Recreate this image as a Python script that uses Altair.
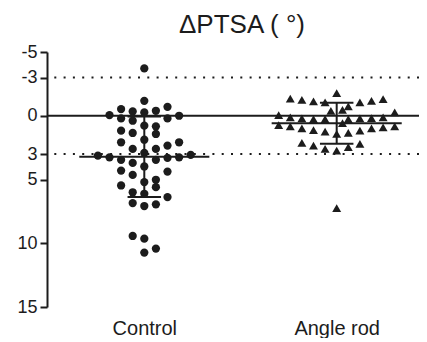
import altair as alt
import pandas as pd

groups = ["Control", "Angle rod"]

control_values = [-3.71, -1.17, -0.52, -0.70, -0.34, -0.39, -0.26, -0.05, 0.0,
                  0.21, 0.39, 0.21, 0.78, 1.17, 0.83, 1.35, 1.43, 1.88, 2.08,
                  2.08, 2.34, 2.60, 2.60, 2.92, 3.13, 3.26, 3.46, 3.70, 3.46,
                  3.30, 3.26, 3.07, 3.98, 4.30, 4.38, 4.64, 5.02, 5.20, 5.47,
                  5.60, 6.00, 6.12, 6.38, 6.85, 7.08, 6.95, 9.43, 9.64, 10.42,
                  10.73]
control_slots = [0, 0, -2, 2, -1, 1, 0, -3, 3,
                 -2, -1, 2, 0, -2, 1, -1, 1, 0, -2,
                 3, 2, -1, 1, 0, -4, -3, -2, -1, 1,
                 2, 3, 4, 0, -2, 2, -1, 1, 0, -2,
                 1, -1, 0, 2, -1, 0, 1, -1, 0, 1,
                 0]

angle_values = [-1.77, -1.35, -1.25, -1.12, -1.04, -1.04, -1.17, -1.30, -0.73,
                -0.39, -0.47, -0.05, -0.26, 0.13, 0.21, 0.26, 0.26, 0.26, 0.21,
                0.18, 0.13, 0.73, 0.83, 0.99, 1.12, 1.25, 1.43, 1.35, 1.17,
                0.99, 0.91, 0.83, 0.57, 2.13, 2.34, 2.60, 2.73, 2.47, 2.21,
                7.24]
angle_slots = [0, -4, -3, -2, -1, 2, 3, 4, 1,
               -0.5, 0.5, -5, 5, -4, -3, -2, -1, 1, 2,
               3, 4, -5, -4, -3, -2, -1, 0, 1, 2,
               3, 4, 5, 0.5, -3, -2, -1, 0, 1, 2,
               0]

y_ticks = [-5, -3, 0, 3, 5, 10, 15]
ref_dotted = [-3, 3]
ref_solid = [0]

SLOT = 0.0603
MEAN_HALF = 0.338
CAP_HALF = 0.087
FONT = "Liberation Sans"
INK = "#1c1c1c"

rows = []
for gi, (g, vals, slots) in enumerate(
        [(groups[0], control_values, control_slots),
         (groups[1], angle_values, angle_slots)]):
    for v, s in zip(vals, slots):
        rows.append({"group": g, "gi": gi + 1, "value": v, "slot": s})
df = pd.DataFrame(rows)

xscale = alt.Scale(domain=[0.4943, 2.4278], nice=False, zero=False)
yscale = alt.Scale(domain=[-5, 15], reverse=True, nice=False, zero=False)

xaxis = alt.Axis(values=[1, 2], labelExpr="datum.value == 1 ? 'Control' : 'Angle rod'",
                 domain=False, ticks=False, grid=False, title=None,
                 labelFont=FONT, labelFontSize=20, labelColor=INK, labelPadding=11)
yaxis = alt.Axis(values=y_ticks,
                 labelExpr="(datum.value < 0 ? '-' : '') + abs(datum.value)",
                 grid=False, title=None, domainColor=INK, domainWidth=2,
                 tickColor=INK, tickWidth=2, tickSize=7, labelFont=FONT,
                 labelFontSize=18, labelColor=INK, labelPadding=3)


def X(field):
    return alt.X(field, type="quantitative", scale=xscale, axis=xaxis)


def Y(field):
    return alt.Y(field, type="quantitative", scale=yscale, axis=yaxis)


base = alt.Chart(df).transform_calculate(xp=f"datum.gi + datum.slot * {SLOT}")

circles = base.transform_filter("datum.gi == 1").mark_point(
    filled=True, shape="circle", size=68, color=INK, opacity=1
).encode(x=X("xp"), y=Y("value"))

triangles = base.transform_filter("datum.gi == 2").mark_point(
    filled=True, shape="triangle-up", size=80, color=INK, opacity=1
).encode(x=X("xp"), y=Y("value"))

solid = alt.Chart(pd.DataFrame({"y": ref_solid})).mark_rule(
    color=INK, strokeWidth=2).encode(y=Y("y"))
dotted = alt.Chart(pd.DataFrame({"y": ref_dotted})).mark_rule(
    color=INK, strokeWidth=2, strokeDash=[2, 7.3]).encode(y=Y("y"))

stats = alt.Chart(df).transform_aggregate(
    mean="mean(value)", sd="stdev(value)", groupby=["group", "gi"]
).transform_calculate(
    lo="datum.mean - datum.sd", hi="datum.mean + datum.sd",
    xl=f"datum.gi - {MEAN_HALF}", xr=f"datum.gi + {MEAN_HALF}",
    cl=f"datum.gi - {CAP_HALF}", cr=f"datum.gi + {CAP_HALF}")

vline = stats.mark_rule(color=INK, strokeWidth=2).encode(
    x=X("gi"), y=Y("lo"), y2="hi:Q")
meanline = stats.mark_rule(color=INK, strokeWidth=2).encode(
    x=X("xl"), x2="xr:Q", y=Y("mean"))
cap_lo = stats.mark_rule(color=INK, strokeWidth=2).encode(
    x=X("cl"), x2="cr:Q", y=Y("lo"))
cap_hi = stats.mark_rule(color=INK, strokeWidth=2).encode(
    x=X("cl"), x2="cr:Q", y=Y("hi"))

chart = alt.layer(
    dotted, solid, circles, triangles, vline, meanline, cap_lo, cap_hi
).properties(
    width=372, height=255,
    title=alt.TitleParams("ΔPTSA ( °)", font=FONT, fontSize=26,
                          fontWeight="normal", color=INK, anchor="middle",
                          frame="group", offset=5, dx=9),
    padding={"left": 39, "top": 44, "right": 0, "bottom": 31},
    autosize=alt.AutoSizeParams(type="none"),
    background="white",
).configure_view(stroke=None)

chart.save("out.html", embed_options={"renderer": "svg", "actions": False})
